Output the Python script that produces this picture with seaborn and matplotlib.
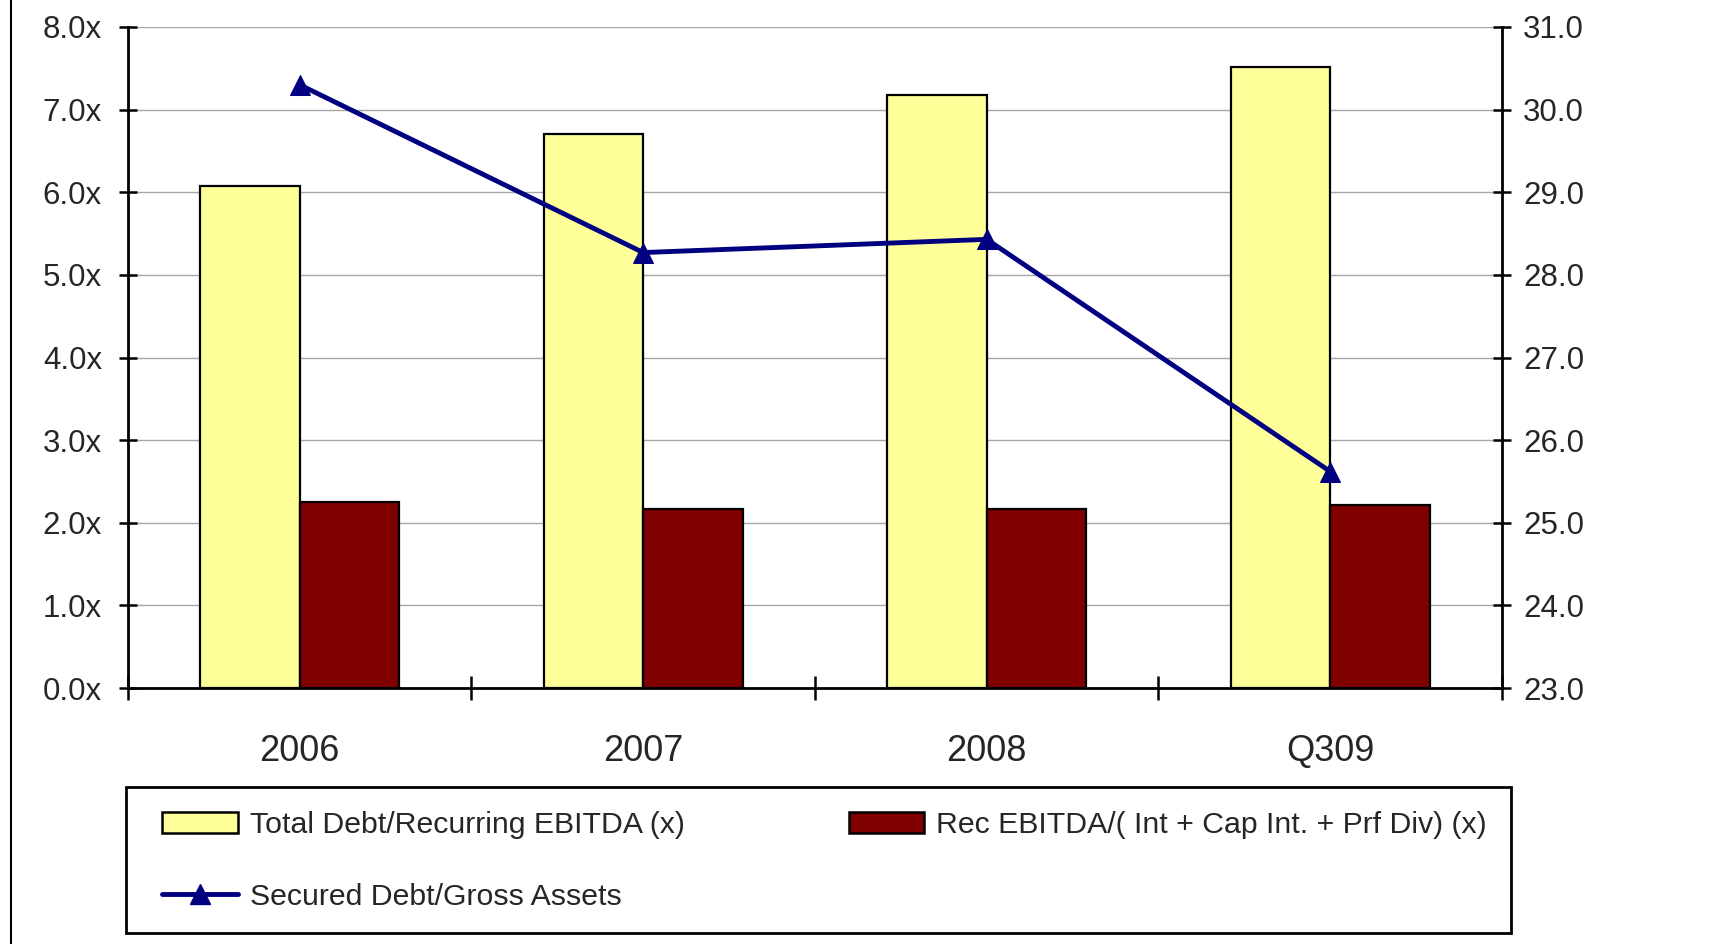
import numpy as np
import pandas as pd
import matplotlib
matplotlib.use("Agg")
import matplotlib.pyplot as plt
import seaborn as sns
from matplotlib.lines import Line2D
from matplotlib.patches import Patch, Rectangle

# Leverage and coverage metrics by period
periods = ["2006", "2007", "2008", "Q309"]
debt_to_ebitda = [6.07, 6.70, 7.18, 7.52]
ebitda_coverage = [2.25, 2.17, 2.17, 2.21]
secured_to_assets = [30.30, 28.27, 28.43, 25.62]

left_ticks = [0.0, 1.0, 2.0, 3.0, 4.0, 5.0, 6.0, 7.0, 8.0]
right_ticks = [23.0, 24.0, 25.0, 26.0, 27.0, 28.0, 29.0, 30.0, 31.0]

bar_names = ["Total Debt/Recurring EBITDA (x)",
             "Rec EBITDA/( Int + Cap Int. + Prf Div) (x)"]
line_name = "Secured Debt/Gross Assets"

YELLOW = "#FFFF99"
MAROON = "#800000"
NAVY = "#000080"

sns.set_theme(style="white")
plt.rcParams["font.family"] = ["Liberation Sans", "DejaVu Sans"]

bars = pd.DataFrame({
    "period": periods * 2,
    "value": debt_to_ebitda + ebitda_coverage,
    "series": [bar_names[0]] * len(periods) + [bar_names[1]] * len(periods),
})

W, H = 1714, 944
fig = plt.figure(figsize=(W / 100, H / 100), dpi=100)
fig.patch.set_facecolor("white")
ax = fig.add_axes([128 / W, 1 - 688 / H, (1502 - 128) / W, (688 - 27) / H])

sns.barplot(data=bars, x="period", y="value", hue="series",
            palette=[YELLOW, MAROON], saturation=1, width=0.578,
            edgecolor="black", linewidth=1.6, legend=False, ax=ax)

ax.set_xlim(-0.5, len(periods) - 0.5)
ax.set_ylim(left_ticks[0], left_ticks[-1])
ax.set_xlabel("")
ax.set_ylabel("")
ax.yaxis.grid(True, color="#a6a6a6", linewidth=1.0)
ax.set_axisbelow(True)

# category boundaries carry the tick marks, labels sit at the centres
ax.set_xticks(np.arange(len(periods) + 1) - 0.5)
ax.set_xticklabels([])
ax.set_xticks(np.arange(len(periods)), minor=True)
ax.set_xticklabels(periods, minor=True, fontsize=26)
ax.tick_params(axis="x", which="major", direction="inout", length=17,
               width=1.8, color="black", bottom=True)
ax.tick_params(axis="x", which="minor", length=0, pad=33, bottom=True)

ax.set_yticks(left_ticks)
ax.set_yticklabels([f"{v:.1f}x" for v in left_ticks])
ax.tick_params(axis="y", direction="inout", length=12.5, width=1.8,
               pad=12.5, labelsize=22.5, left=True, color="black")

for side in ["left", "bottom"]:
    ax.spines[side].set_color("black")
    ax.spines[side].set_linewidth(2.0)
ax.spines["top"].set_visible(False)
ax.spines["right"].set_visible(False)

ax2 = ax.twinx()
sns.lineplot(x=np.arange(len(periods)), y=secured_to_assets, ax=ax2,
             color=NAVY, linewidth=3.5, marker="^", markersize=14,
             markeredgecolor=NAVY, markerfacecolor=NAVY, legend=False)
ax2.set_ylim(right_ticks[0], right_ticks[-1])
ax2.set_xlim(-0.5, len(periods) - 0.5)
ax2.set_ylabel("")
ax2.set_yticks(right_ticks)
ax2.set_yticklabels([f"{v:.1f}" for v in right_ticks])
ax2.tick_params(axis="y", direction="inout", length=12.5, width=1.8,
                pad=8.8, labelsize=22.5, right=True, color="black")
ax2.spines["right"].set_color("black")
ax2.spines["right"].set_linewidth(2.0)
for side in ["top", "left", "bottom"]:
    ax2.spines[side].set_visible(False)

# legend box drawn as its own frame, entries laid out inside it
fig.add_artist(Rectangle((126 / W, 1 - 933 / H), (1511 - 126) / W,
                         (933 - 787) / H, transform=fig.transFigure,
                         facecolor="white", edgecolor="black", linewidth=2.0))

handles = [
    Patch(facecolor=YELLOW, edgecolor="black", linewidth=1.8, label=bar_names[0]),
    Line2D([], [], color=NAVY, linewidth=3.5, marker="^", markersize=14,
           label=line_name),
    Patch(facecolor=MAROON, edgecolor="black", linewidth=1.8, label=bar_names[1]),
]
leg = fig.legend(handles=handles, loc="center",
                 bbox_to_anchor=(162 / W, 1 - 861 / H - 0.05,
                                 (1487 - 162) / W, 0.1),
                 bbox_transform=fig.transFigure, mode="expand", ncol=2,
                 fontsize=21.8, frameon=False, borderpad=0,
                 labelspacing=1.45, handlelength=2.5, handleheight=0.67,
                 handletextpad=0.4, borderaxespad=0)

# thin frame edge along the left side of the figure
fig.add_artist(Line2D([11 / W, 11 / W], [0, 1],
                      transform=fig.transFigure, color="black", linewidth=1.5))

fig.savefig("out.png", dpi=100, facecolor="white")
